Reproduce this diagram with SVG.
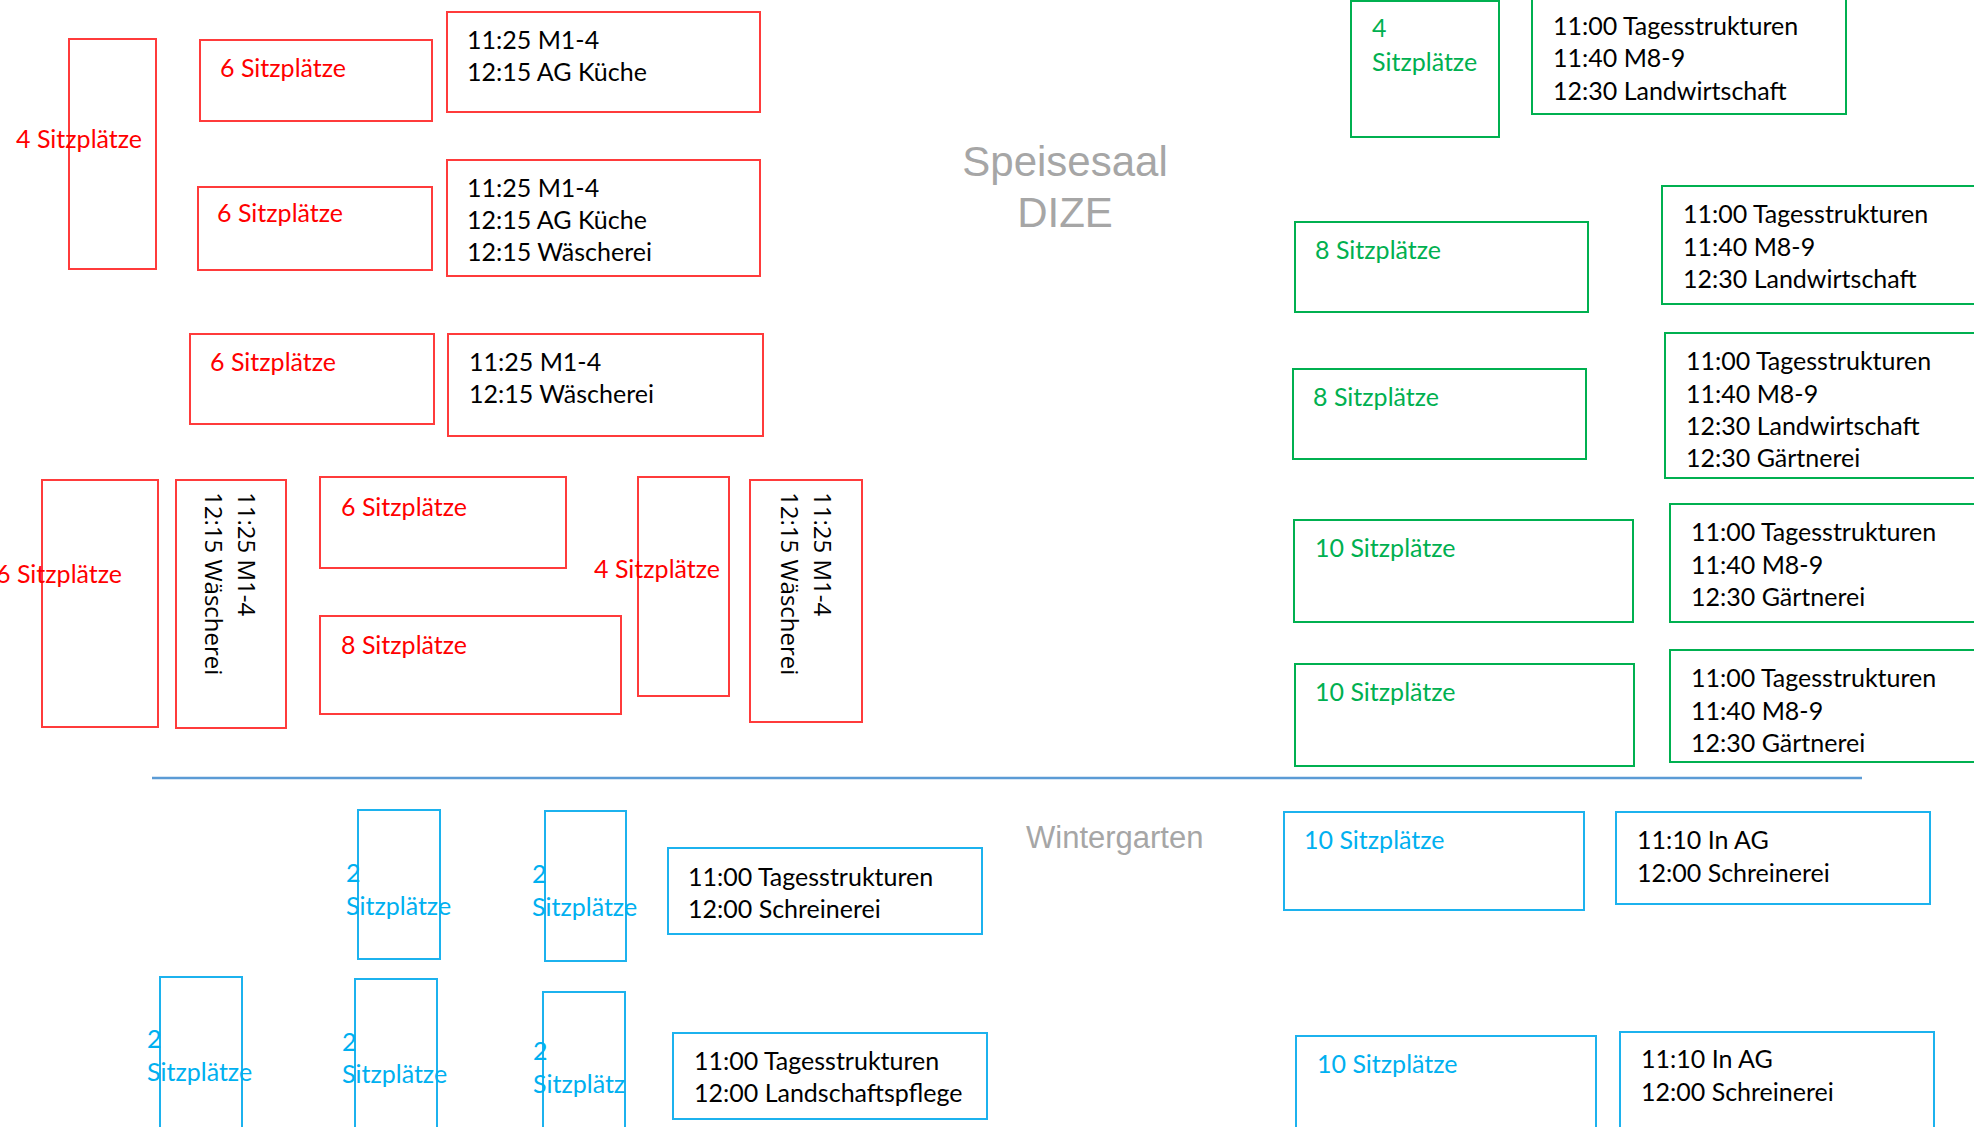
<svg xmlns="http://www.w3.org/2000/svg" width="1974" height="1127" viewBox="0 0 1974 1127">
<style>
rect{fill:none;stroke-width:2}
.r{stroke:#FF3B3B}
.g{stroke:#00B050}
.b{stroke:#1CB2EE}
text{font-family:Lato,"Liberation Sans",sans-serif;font-size:25px}
.tr{fill:#FF0000}
.tg{fill:#00B050}
.tb{fill:#00B0F0}
.tk{fill:#000000}
.rot{font-family:"Open Sans","Noto Sans",sans-serif;font-size:24px;fill:#000000}
.h{font-family:"Liberation Sans",Arial,sans-serif;fill:#A6A6A6}
.h1{font-size:42px}
.h2{font-size:31px}
</style>
<rect x="0" y="0" width="1974" height="1127" fill="#FFFFFF" stroke="none"/>
<g id="title-speisesaal"><text class="h h1" x="1065" y="176" text-anchor="middle">Speisesaal</text><text class="h h1" x="1065" y="227" text-anchor="middle">DIZE</text></g>
<g id="title-wintergarten"><text class="h h2" x="1026" y="848">Wintergarten</text></g>
<g id="connectors"><line x1="152" y1="778" x2="1862" y2="778" stroke="#5B9BD5" stroke-width="2.5"/></g>
<g id="n1"><rect class="r" x="69" y="39" width="87" height="230"/><text class="tr" x="16" y="148">4 Sitzplätze</text></g>
<g id="n2"><rect class="r" x="200" y="40" width="232" height="81"/><text class="tr" x="220" y="77">6 Sitzplätze</text></g>
<g id="n3"><rect class="r" x="447" y="12" width="313" height="100"/><text class="tk" x="467" y="49">11:25 M1-4</text><text class="tk" x="467" y="81">12:15 AG Küche</text></g>
<g id="n4"><rect class="r" x="198" y="187" width="234" height="83"/><text class="tr" x="217" y="222">6 Sitzplätze</text></g>
<g id="n5"><rect class="r" x="447" y="160" width="313" height="116"/><text class="tk" x="467" y="197">11:25 M1-4</text><text class="tk" x="467" y="229">12:15 AG Küche</text><text class="tk" x="467" y="261">12:15 Wäscherei</text></g>
<g id="n6"><rect class="r" x="190" y="334" width="244" height="90"/><text class="tr" x="210" y="371">6 Sitzplätze</text></g>
<g id="n7"><rect class="r" x="448" y="334" width="315" height="102"/><text class="tk" x="469" y="371">11:25 M1-4</text><text class="tk" x="469" y="403">12:15 Wäscherei</text></g>
<g id="n8"><rect class="r" x="42" y="480" width="116" height="247"/><text class="tr" x="-4" y="583">6 Sitzplätze</text></g>
<g id="n9"><rect class="r" x="176" y="480" width="110" height="248"/><text class="rot" transform="translate(238,492) rotate(90)">11:25 M1-4</text><text class="rot" transform="translate(205,492) rotate(90)">12:15 Wäscherei</text></g>
<g id="n10"><rect class="r" x="320" y="477" width="246" height="91"/><text class="tr" x="341" y="516">6 Sitzplätze</text></g>
<g id="n11"><rect class="r" x="320" y="616" width="301" height="98"/><text class="tr" x="341" y="654">8 Sitzplätze</text></g>
<g id="n12"><rect class="r" x="638" y="477" width="91" height="219"/><text class="tr" x="594" y="578">4 Sitzplätze</text></g>
<g id="n13"><rect class="r" x="750" y="480" width="112" height="242"/><text class="rot" transform="translate(814,492) rotate(90)">11:25 M1-4</text><text class="rot" transform="translate(781,492) rotate(90)">12:15 Wäscherei</text></g>
<g id="n14"><rect class="g" x="1351" y="1" width="148" height="136"/><text class="tg" x="1372" y="37">4</text><text class="tg" x="1372" y="71">Sitzplätze</text></g>
<g id="n15"><rect class="g" x="1532" y="-1" width="314" height="115"/><text class="tk" x="1553" y="35">11:00 Tagesstrukturen</text><text class="tk" x="1553" y="67">11:40 M8-9</text><text class="tk" x="1553" y="100">12:30 Landwirtschaft</text></g>
<g id="n16"><rect class="g" x="1295" y="222" width="293" height="90"/><text class="tg" x="1315" y="259">8 Sitzplätze</text></g>
<g id="n17"><rect class="g" x="1662" y="186" width="330" height="118"/><text class="tk" x="1683" y="223">11:00 Tagesstrukturen</text><text class="tk" x="1683" y="256">11:40 M8-9</text><text class="tk" x="1683" y="288">12:30 Landwirtschaft</text></g>
<g id="n18"><rect class="g" x="1293" y="369" width="293" height="90"/><text class="tg" x="1313" y="406">8 Sitzplätze</text></g>
<g id="n19"><rect class="g" x="1665" y="333" width="330" height="145"/><text class="tk" x="1686" y="370">11:00 Tagesstrukturen</text><text class="tk" x="1686" y="403">11:40 M8-9</text><text class="tk" x="1686" y="435">12:30 Landwirtschaft</text><text class="tk" x="1686" y="467">12:30 Gärtnerei</text></g>
<g id="n20"><rect class="g" x="1294" y="520" width="339" height="102"/><text class="tg" x="1315" y="557">10 Sitzplätze</text></g>
<g id="n21"><rect class="g" x="1670" y="504" width="330" height="118"/><text class="tk" x="1691" y="541">11:00 Tagesstrukturen</text><text class="tk" x="1691" y="574">11:40 M8-9</text><text class="tk" x="1691" y="606">12:30 Gärtnerei</text></g>
<g id="n22"><rect class="g" x="1295" y="664" width="339" height="102"/><text class="tg" x="1315" y="701">10 Sitzplätze</text></g>
<g id="n23"><rect class="g" x="1670" y="650" width="330" height="112"/><text class="tk" x="1691" y="687">11:00 Tagesstrukturen</text><text class="tk" x="1691" y="720">11:40 M8-9</text><text class="tk" x="1691" y="752">12:30 Gärtnerei</text></g>
<g id="n24"><rect class="b" x="358" y="810" width="82" height="149"/><text class="tb" x="346" y="882">2</text><text class="tb" x="346" y="915">Sitzplätze</text></g>
<g id="n25"><rect class="b" x="545" y="811" width="81" height="150"/><text class="tb" x="532" y="883">2</text><text class="tb" x="532" y="916">Sitzplätze</text></g>
<g id="n26"><rect class="b" x="668" y="848" width="314" height="86"/><text class="tk" x="688" y="886">11:00 Tagesstrukturen</text><text class="tk" x="688" y="918">12:00 Schreinerei</text></g>
<g id="n27"><rect class="b" x="1284" y="812" width="300" height="98"/><text class="tb" x="1304" y="849">10 Sitzplätze</text></g>
<g id="n28"><rect class="b" x="1616" y="812" width="314" height="92"/><text class="tk" x="1637" y="849">11:10 In AG</text><text class="tk" x="1637" y="882">12:00 Schreinerei</text></g>
<g id="n29"><rect class="b" x="160" y="977" width="82" height="160"/><text class="tb" x="147" y="1048">2</text><text class="tb" x="147" y="1081">Sitzplätze</text></g>
<g id="n30"><rect class="b" x="355" y="979" width="82" height="160"/><text class="tb" x="342" y="1051">2</text><text class="tb" x="342" y="1083">Sitzplätze</text></g>
<g id="n31"><rect class="b" x="543" y="992" width="82" height="145"/><text class="tb" x="533" y="1060">2</text><text class="tb" x="533" y="1093">Sitzplätz</text></g>
<g id="n32"><rect class="b" x="673" y="1033" width="314" height="86"/><text class="tk" x="694" y="1070">11:00 Tagesstrukturen</text><text class="tk" x="694" y="1102">12:00 Landschaftspflege</text></g>
<g id="n33"><rect class="b" x="1296" y="1036" width="300" height="100"/><text class="tb" x="1317" y="1073">10 Sitzplätze</text></g>
<g id="n34"><rect class="b" x="1620" y="1032" width="314" height="100"/><text class="tk" x="1641" y="1068">11:10 In AG</text><text class="tk" x="1641" y="1101">12:00 Schreinerei</text></g>
</svg>
